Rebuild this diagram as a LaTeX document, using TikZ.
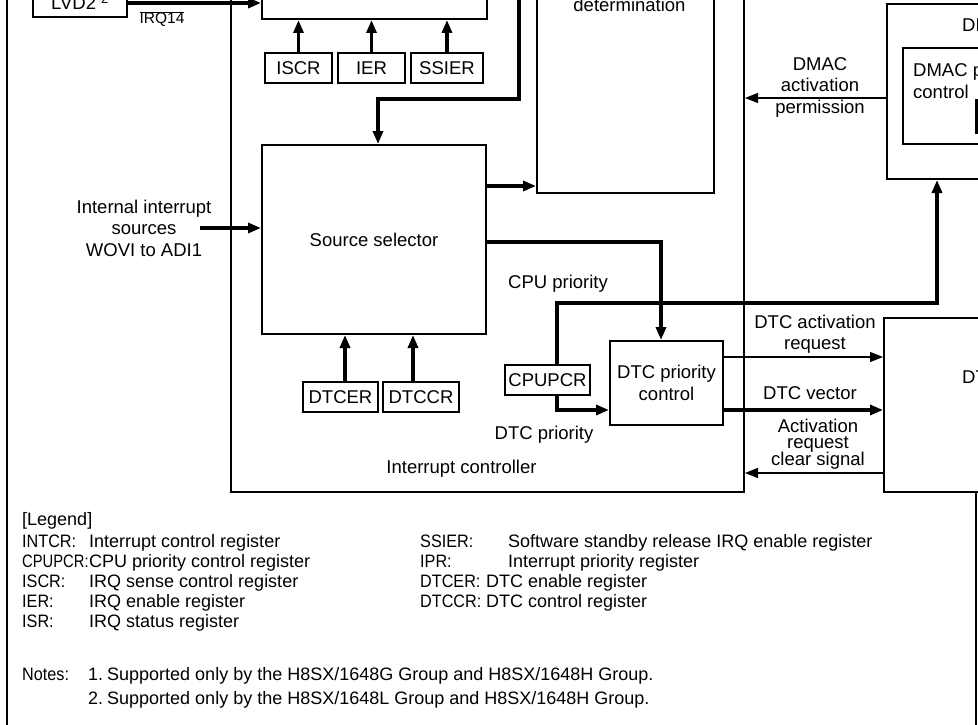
\documentclass[tikz,border=0pt]{standalone}
\usepackage{fontspec}
\setmainfont{Liberation Sans}
\newfontfamily\narrowfont[FakeStretch=0.82]{Liberation Sans}
\newfontfamily\labfont[FakeStretch=0.9]{Liberation Sans}
\usetikzlibrary{arrows.meta}
\newcommand\tightfont{\fontsize{18.5}{16.5}\selectfont\lineskiplimit=-30pt\relax}
\newcommand\legsize{\fontsize{18}{20}\selectfont}
\begin{document}
\begin{tikzpicture}[x=1pt,y=-1pt,
  font=\fontsize{18.5}{21.5}\selectfont,
  every node/.style={inner sep=0pt},
  blk/.style={draw,line width=2pt},
  reg/.style={draw,line width=2pt,minimum height=30pt},
  frame/.style={line width=2pt},
  bus/.style={line width=3.5pt},
  thinl/.style={line width=1.3pt},
  arr/.style={-{Triangle[length=13pt,width=10pt]}},
  lg/.style={anchor=base west,font=\legsize},
  lgl/.style={anchor=base west,font=\labfont\legsize}
]
\useasboundingbox (0,0) rectangle (978,725);
\clip (0,0) rectangle (978,725);

% outer frame
\draw[frame] (7,-10) -- (7,735);
\draw[frame] (976,492) -- (976,735);

% interrupt controller
\node[blk,minimum width=513pt,minimum height=582pt] (ctrl) at (487.5,201) {};
% IRQ input block (top)
\node[blk,minimum width=225pt,minimum height=79pt] (irqdet) at (374.5,-20.5) {};
% priority determination
\node[blk,minimum width=177pt,minimum height=283pt] (prio) at (625.5,51.5) {};
\node (det) at (629.5,5.3) {determination};

% LVD2
\node[blk,minimum width=94pt,minimum height=40pt] (lvd) at (80,-3) {};
\node[anchor=base] (lvdt) at (80,10) {LVD2\textsuperscript{*2}};
\coordinate (y3) at (0,3);
\draw[bus,arr] (lvd.east |- y3) -- (irqdet.west |- y3);
\node[font=\fontsize{15.5}{18}\selectfont] (irq14) at (162,19) {$\overline{\hbox{IRQ14}}$};

% registers under IRQ block
\node[reg,minimum width=67pt] (iscr) at (298.5,68) {ISCR};
\node[reg,minimum width=67pt] (ier) at (371.5,68) {IER};
\node[reg,minimum width=72pt] (ssier) at (447,68) {SSIER};
\draw[bus,arr] (iscr.north) -- (iscr.north |- irqdet.south);
\draw[bus,arr] (ier.north) -- (ier.north |- irqdet.south);
\draw[bus,arr] (ssier.north) -- (ssier.north |- irqdet.south);

% source selector
\node[blk,minimum width=224pt,minimum height=189pt] (src) at (374,239.5) {Source selector};

% feed into source selector
\coordinate (ftop) at (519,-10);
\coordinate (fturn) at (378,99);
\draw[bus,arr] (ftop) |- (fturn) -- (fturn |- src.north);

% internal interrupt sources
\coordinate (iin) at (200,228);
\draw[bus,arr] (iin) -- (iin -| src.west);
\node[align=center] (inttext) at (144,228) {Internal interrupt\\sources\\WOVI to ADI1};

% DTC priority control
\node[blk,minimum width=113pt,minimum height=84pt,align=center] (dtcp) at (666.5,383) {DTC priority\\control};

% source selector outputs
\coordinate (y186) at (0,186);
\draw[bus,arr] (src.east |- y186) -- (prio.west |- y186);
\coordinate (y242) at (0,242);
\coordinate (xdn) at (661,0);
\draw[bus,arr] (src.east |- y242) -| (xdn |- dtcp.north);

% DTCER / DTCCR
\node[reg,minimum width=75pt] (dtcer) at (340.5,397) {DTCER};
\node[reg,minimum width=76pt] (dtccr) at (421,397) {DTCCR};
\coordinate (a1) at ([xshift=4.5pt]dtcer.north);
\coordinate (a2) at ([xshift=-8pt]dtccr.north);
\draw[bus,arr] (a1) -- (a1 |- src.south);
\draw[bus,arr] (a2) -- (a2 |- src.south);

% DMAC
\node[blk,minimum width=213pt,minimum height=175pt] (dmac) at (993.5,91.5) {};
\node[blk,minimum width=187pt,minimum height=96pt] (dmacp) at (996.5,96) {};
\node[anchor=base west] (dmact) at (962,32) {DMAC};
\node[anchor=base west] (dmacpt1) at (913,77) {DMAC priority};
\node[anchor=base west] (dmacpt2) at (913,99) {control};
\draw[line width=2.5pt] (976.5,100) rectangle (1060,133);

% DTC
\node[blk,minimum width=216pt,minimum height=174pt] (dtc) at (992,405) {};
\node[anchor=base west] (dtct) at (962,383) {DTC};

% CPUPCR
\node[reg,minimum width=85pt] (cpupcr) at (547.5,380) {CPUPCR};
\coordinate (cpn) at ([xshift=9.5pt]cpupcr.north);
\coordinate (cps) at ([xshift=9.5pt]cpupcr.south);
\coordinate (y303) at (0,303);
\coordinate (x937) at (937,0);
\draw[bus,arr] (cpn) -- (cpn |- y303) -- (x937 |- y303) -- (x937 |- dmac.south);
\coordinate (y410) at (0,410);
\draw[bus,arr] (cps) |- (dtcp.west |- y410);

% labels inside controller
\node (cpuprio) at (558,284) {CPU priority};
\node (dtcprio) at (544,434.5) {DTC priority};
\node (ictext) at (461.5,469) {Interrupt controller};

% DMAC activation permission
\coordinate (y98) at (0,98);
\draw[thinl,arr] (dmac.west |- y98) -- (ctrl.east |- y98);
\node[align=center] (permt) at (820,87) {DMAC\\activation\\permission};

% DTC activation request
\coordinate (y357) at (0,357);
\draw[thinl,arr] (dtcp.east |- y357) -- (dtc.west |- y357);
\node[align=center] (reqt) at (815,334) {DTC activation\\request};

% DTC vector
\draw[bus,arr] (dtcp.east |- y410) -- (dtc.west |- y410);
\node (vect) at (810,393.5) {DTC vector};

% activation request clear signal
\coordinate (y473) at (0,473);
\draw[thinl,arr] (dtc.west |- y473) -- (ctrl.east |- y473);
\node[align=center,font=\tightfont] (clrt) at (818,444) {Activation\\request\\clear signal};

% legend
\node[lg] (lg0) at (22,525) {[Legend]};
\node[lgl] (l1) at (22,547) {INTCR:};
\node[lg] (l1d) at (89,547) {Interrupt control register};
\node[lgl] (l2) at (22,567) {\narrowfont CPUPCR:};
\node[lg] (l2d) at (89,567) {CPU priority control register};
\node[lgl] (l3) at (22,587) {ISCR:};
\node[lg] (l3d) at (89,587) {IRQ sense control register};
\node[lgl] (l4) at (22,607) {IER:};
\node[lg] (l4d) at (89,607) {IRQ enable register};
\node[lgl] (l5) at (22,627) {ISR:};
\node[lg] (l5d) at (89,627) {IRQ status register};
\node[lgl] (r1) at (420,547) {SSIER:};
\node[lg] (r1d) at (508,547) {Software standby release IRQ enable register};
\node[lgl] (r2) at (420,567) {IPR:};
\node[lg] (r2d) at (508,567) {Interrupt priority register};
\node[lgl] (r3) at (420,587) {DTCER:};
\node[lg] (r3d) at (486,587) {DTC enable register};
\node[lgl] (r4) at (420,607) {DTCCR:};
\node[lg] (r4d) at (486,607) {DTC control register};
\node[lgl] (n0) at (22,680) {Notes:};
\node[lg] (n1) at (88,680) {1.};
\node[lg] (n1d) at (107,680) {Supported only by the H8SX/1648G Group and H8SX/1648H Group.};
\node[lg] (n2) at (88,704) {2.};
\node[lg] (n2d) at (107,704) {Supported only by the H8SX/1648L Group and H8SX/1648H Group.};
\end{tikzpicture}
\end{document}
